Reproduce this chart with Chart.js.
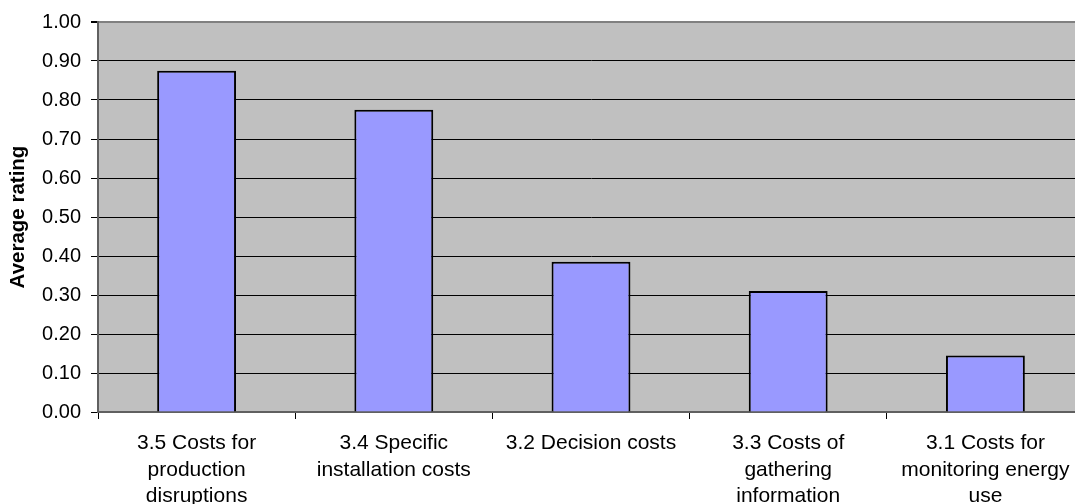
<!DOCTYPE html>
<html>
<head>
<meta charset="utf-8">
<script src="https://cdn.jsdelivr.net/npm/chart.js@4/dist/chart.umd.min.js"></script>
<style>
  html, body { margin: 0; padding: 0; background: #ffffff; overflow: hidden; }
  #wrap { width: 1085px; height: 504px; position: relative; }
</style>
</head>
<body>
<div id="wrap"><canvas id="chart"></canvas></div>
<script>
// Cost categories (multi-line labels as they wrap under each bar)
const categories = [
  ["3.5 Costs for", "production", "disruptions"],
  ["3.4 Specific", "installation costs"],
  ["3.2 Decision costs"],
  ["3.3 Costs of", "gathering", "information"],
  ["3.1 Costs for", "monitoring energy", "use"]
];
// Average rating per category
const averageRating = [0.875, 0.775, 0.385, 0.31, 0.145];
// Value axis range and step
const yMin = 0;
const yMax = 1;
const yStep = 0.1;

const FONT = "'Liberation Sans', Arial, sans-serif";

// Grey plot-area fill behind the bars
const plotBackground = {
  id: 'plotBackground',
  beforeDraw(chart) {
    const { ctx, chartArea: a } = chart;
    ctx.save();
    ctx.fillStyle = '#C0C0C0';
    ctx.fillRect(a.left, a.top, a.right - a.left, a.bottom - a.top);
    ctx.restore();
  }
};

new Chart(document.getElementById('chart'), {
  type: 'bar',
  data: {
    labels: categories,
    datasets: [{
      data: averageRating,
      backgroundColor: '#9999FF',
      borderColor: '#000000',
      borderWidth: 2,
      borderSkipped: 'start',
      barPercentage: 0.4,
      categoryPercentage: 1.0
    }]
  },
  options: {
    responsive: true,
    maintainAspectRatio: false,
    animation: false,
    layout: { padding: { left: 2, top: 22, right: 1, bottom: 0 } },
    plugins: {
      legend: { display: false },
      tooltip: { enabled: false }
    },
    scales: {
      x: {
        offset: true,
        grid: {
          display: true,
          offset: true,
          drawOnChartArea: false,
          drawTicks: true,
          tickLength: 7,
          color: '#000000',
          lineWidth: 1
        },
        border: { display: true, color: '#606060', width: 2 },
        ticks: {
          color: '#000000',
          padding: 11,
          maxRotation: 0,
          autoSkip: false,
          font: { family: FONT, size: 21, lineHeight: 1.27 }
        },
        afterFit(scale) { scale.height = 92; }
      },
      y: {
        min: yMin,
        max: yMax,
        ticks: {
          stepSize: yStep,
          color: '#000000',
          padding: 10,
          font: { family: FONT, size: 20 },
          callback: (v) => Number(v).toFixed(2)
        },
        grid: {
          color: (c) => (c.tick && Math.abs(c.tick.value - yMax) < 1e-9 ? '#808080' : '#000000'),
          tickColor: '#000000',
          lineWidth: (c) => (c.tick && Math.abs(c.tick.value - yMax) < 1e-9 ? 2 : 1),
          tickLength: 7,
          drawTicks: true
        },
        border: { display: true, color: '#606060', width: 2 },
        title: {
          display: true,
          text: 'Average rating',
          color: '#000000',
          font: { family: FONT, size: 20.5, weight: 'bold' },
          padding: { top: 4, bottom: 4 }
        },
        afterFit(scale) { scale.width = 96; }
      }
    }
  },
  plugins: [plotBackground]
});
</script>
</body>
</html>
